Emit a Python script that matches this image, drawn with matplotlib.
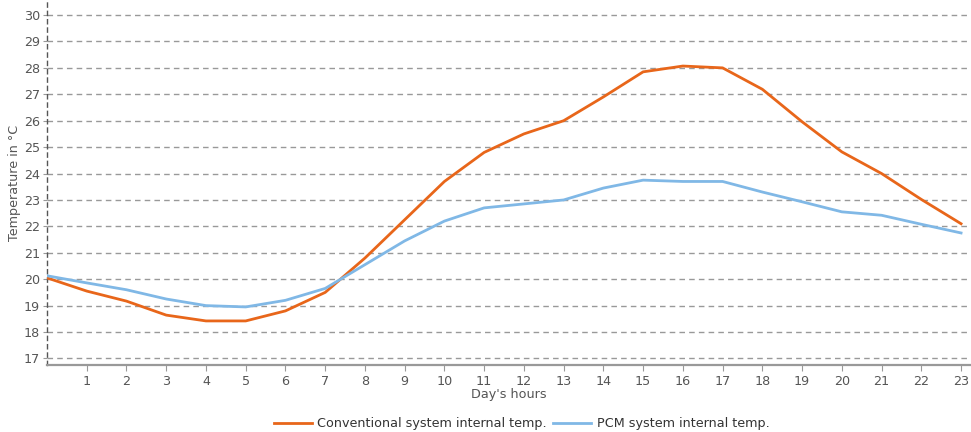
import matplotlib
matplotlib.use("Agg")
import matplotlib.pyplot as plt

hours = list(range(24))
conventional = [20.05, 19.55, 19.17, 18.64, 18.42, 18.42, 18.8, 19.5, 20.8, 22.25,
                23.7, 24.8, 25.5, 26.0, 26.9, 27.85, 28.07, 28.0, 27.19, 25.96,
                24.82, 24.0, 23.02, 22.1]
pcm = [20.13, 19.86, 19.6, 19.25, 19.0, 18.95, 19.2, 19.65, 20.55, 21.45,
       22.2, 22.7, 22.85, 23.0, 23.45, 23.75, 23.7, 23.7, 23.3, 22.93,
       22.55, 22.42, 22.08, 21.75]
xticks = list(range(1, 24))
yticks = list(range(17, 31))

plt.rcParams['font.family'] = ['DejaVu Sans']
fig = plt.figure(figsize=(9.71, 4.32), dpi=100)
ax = fig.add_axes([0.0484, 0.155, 0.9516, 0.845])

ax.plot(hours, conventional, color='#E8661A', lw=2, label='Conventional system internal temp.', zorder=3)
ax.plot(hours, pcm, color='#80B8E6', lw=2, label='PCM system internal temp.', zorder=3)

ax.set_xlim(0, 23.25)
ax.set_ylim(16.75, 30.57)
ax.set_xticks(xticks)
ax.set_yticks(yticks)
ax.yaxis.grid(True, linestyle=(0, (4, 3)), color='#999999', lw=1.0)
ax.set_axisbelow(True)
for s in ['top', 'right']:
    ax.spines[s].set_visible(False)
ax.spines['left'].set_linestyle((0, (3, 3)))
ax.spines['left'].set_color('#555555')
ax.spines['left'].set_linewidth(1.0)
ax.spines['bottom'].set_color('#999999')
ax.spines['bottom'].set_linewidth(1.6)
ax.tick_params(axis='both', colors='#999999', labelcolor='#555555', labelsize=9.2, length=4)
ax.tick_params(axis='y', length=3, pad=2)
ax.tick_params(axis='x', pad=3)
ax.set_xlabel("Day's hours", color='#555555', fontsize=9.2, labelpad=0)
ax.set_ylabel("Temperature in °C", color='#555555', fontsize=9.2, labelpad=2)

leg = fig.legend(loc='lower center', bbox_to_anchor=(0.537, -0.022), ncol=2, frameon=False,
                 fontsize=9.2, handlelength=3, columnspacing=0.5, handletextpad=0.4)
for t in leg.get_texts():
    t.set_color('#333333')

fig.savefig('out.png', dpi=100)
